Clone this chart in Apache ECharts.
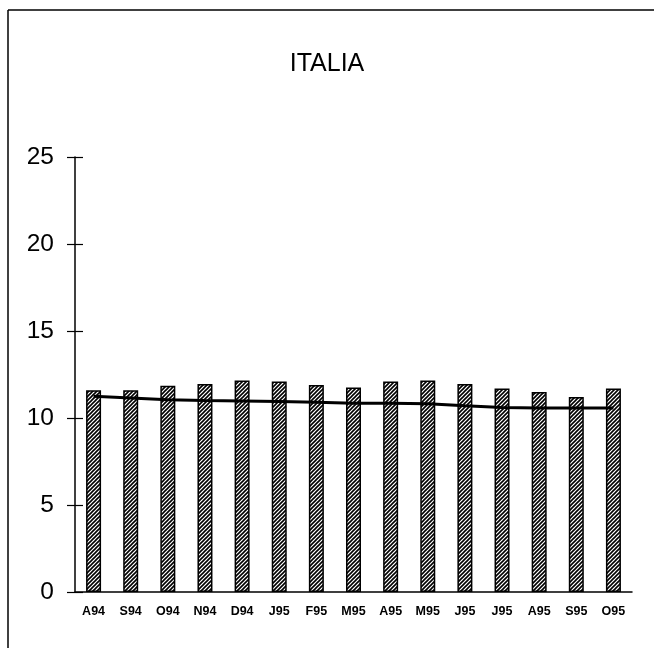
<!DOCTYPE html>
<html>
<head>
<meta charset="utf-8">
<script src="https://cdn.jsdelivr.net/npm/echarts@6/dist/echarts.min.js"></script>
<style>
html,body{margin:0;padding:0;background:#fff;}
#c{width:654px;height:648px;}
</style>
</head>
<body>
<div id="c"></div>
<script>
const categories = ['A94','S94','O94','N94','D94','J95','F95','M95','A95','M95','J95','J95','A95','S95','O95'];
const barValues = [11.6, 11.6, 11.85, 11.95, 12.15, 12.1, 11.9, 11.75, 12.1, 12.15, 11.95, 11.7, 11.5, 11.2, 11.7];
const lineValues = [11.25, 11.15, 11.05, 11.0, 10.98, 10.95, 10.9, 10.85, 10.85, 10.82, 10.7, 10.6, 10.57, 10.57, 10.57];
const yTicks = [0, 5, 10, 15, 20, 25];
const titleText = 'ITALIA';

// hatch pattern
const pc = document.createElement('canvas');
pc.width = 4; pc.height = 4;
const g = pc.getContext('2d');
g.fillStyle = '#fff'; g.fillRect(0,0,4,4);
g.strokeStyle = '#000'; g.lineWidth = 1.6;
g.beginPath();
g.moveTo(-1,5); g.lineTo(5,-1);
g.moveTo(-1,1); g.lineTo(1,-1);
g.moveTo(3,5); g.lineTo(5,3);
g.stroke();

const chart = echarts.init(document.getElementById('c'), null, {renderer:'canvas'});
const font = 'Liberation Sans, Arial, Helvetica, sans-serif';
chart.setOption({
  animation: false,
  backgroundColor: '#fff',
  title: {
    text: titleText, left: 'center', top: 47,
    textStyle: {fontFamily: font, fontSize: 25, fontWeight: 'normal', color: '#000'}
  },
  grid: {left: 75, right: 22, top: 157, bottom: 56},
  xAxis: {
    type: 'category', data: categories, boundaryGap: true,
    axisLine: {show: true, lineStyle: {color: '#000', width: 1.5}},
    axisTick: {show: false},
    axisLabel: {fontFamily: font, fontSize: 12.5, fontWeight: 'bold', color: '#000', margin: 13, interval: 0}
  },
  yAxis: [{
    type: 'value', min: yTicks[0], max: yTicks[yTicks.length-1], interval: 5,
    axisLine: {show: true, lineStyle: {color: '#000', width: 1.5}},
    axisTick: {show: true, length: 8, lineStyle: {color: '#000', width: 1.2}},
    axisLabel: {fontFamily: font, fontSize: 24.5, color: '#000', margin: 21},
    splitLine: {show: false}
  },{
    type: 'value', min: yTicks[0], max: yTicks[yTicks.length-1], interval: 5, position: 'left', offset: 0,
    axisLine: {show: false},
    axisTick: {show: true, inside: true, length: 8, lineStyle: {color: '#000', width: 1.2}},
    axisLabel: {show: false},
    splitLine: {show: false}
  }],
  series: [{
    type: 'bar', data: barValues, barWidth: 15,
    itemStyle: {color: {image: pc, repeat: 'repeat'}, borderColor: '#000', borderWidth: 1.5},
    z: 2
  },{
    type: 'line', data: lineValues, showSymbol: false, symbol: 'none',
    lineStyle: {color: '#000', width: 3}, z: 5
  }],
  graphic: [
    {type: 'line', shape: {x1: 8, y1: 10, x2: 654, y2: 10}, style: {stroke: '#000', lineWidth: 1.5}},
    {type: 'line', shape: {x1: 8, y1: 10, x2: 8, y2: 648}, style: {stroke: '#000', lineWidth: 1.5}}
  ]
});
</script>
</body>
</html>
